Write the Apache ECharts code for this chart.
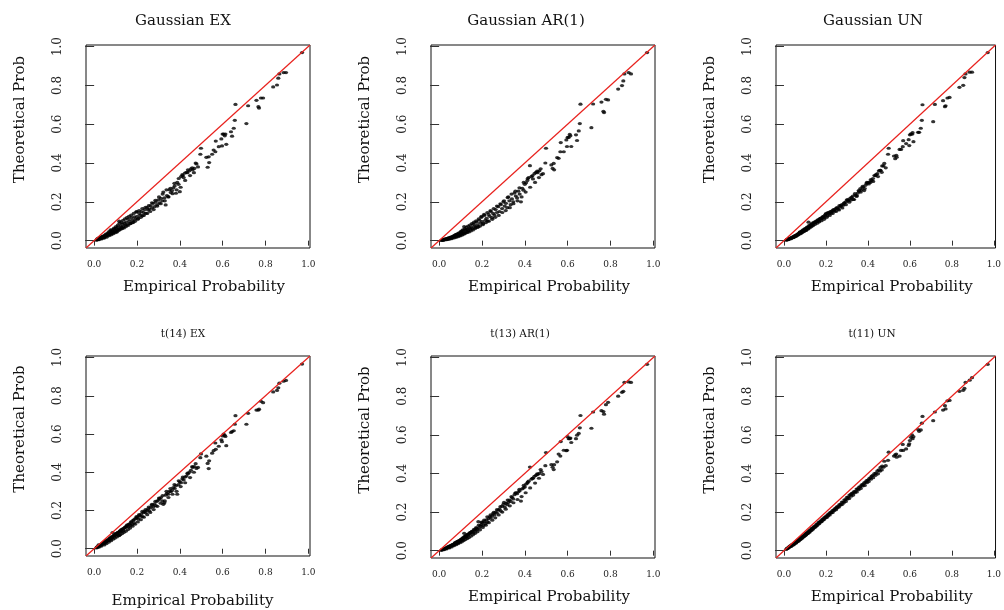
<!DOCTYPE html>
<html>
<head>
<meta charset="utf-8">
<script src="https://cdn.jsdelivr.net/npm/echarts@6/dist/echarts.min.js"></script>
<style>html,body{margin:0;padding:0;background:#fff;}#c{width:1004px;height:610px;}</style>
</head>
<body>
<div id="c"></div>
<script>
// Panel titles
const titles = ['Gaussian EX', 'Gaussian AR(1)', 'Gaussian UN', 't(14) EX', 't(13) AR(1)', 't(11) UN'];
const xName = 'Empirical Probability';
const yName = 'Theoretical Prob';
const tickValues = [0, 0.2, 0.4, 0.6, 0.8, 1.0];
const axisLim = [-0.038, 1.008];

// Empirical probabilities (shared x values), first set
const emp = [
0.010,0.013,0.016,0.019,0.021,0.024,0.027,0.030,0.032,0.035,
0.038,0.040,0.043,0.046,0.048,0.051,0.054,0.057,0.060,0.062,
0.065,0.068,0.071,0.074,0.077,0.080,0.083,0.086,0.089,0.092,
0.095,0.098,0.101,0.104,0.107,0.110,0.113,0.117,0.120,0.124,
0.128,0.132,0.136,0.141,0.146,
0.150,0.155,0.160,0.165,0.170,0.174,0.178,0.183,0.188,0.192,
0.197,0.201,0.206,0.211,0.216,0.221,0.226,0.231,0.236,0.241,
0.247,0.252,0.258,0.264,0.270,0.276,0.282,0.288,0.294,0.300,
0.306,0.312,0.318,0.323,0.328,0.334,0.340,0.346,0.352,0.358,
0.364,0.370,0.376,0.382,0.388,0.394,0.400,0.406,0.412,0.418,
0.424,0.431,0.438,0.445,0.452,0.460,0.468,0.478,
0.496,0.499,0.524,0.530,0.535,0.537,0.551,0.558,0.566,0.568,
0.582,0.594,0.597,0.600,0.605,0.610,0.613,0.617,0.639,0.644,
0.652,0.657,0.660,0.711,0.719,0.758,0.767,0.770,0.779,0.789,
0.836,0.854,0.860,0.865,0.885,0.896,0.971];

// Empirical probabilities, second set (dense lower part)
const emp2 = [
0.015,0.022,0.028,0.034,0.041,0.047,0.053,0.058,0.064,0.069,
0.075,0.079,0.084,0.088,0.093,0.097,0.102,0.106,0.111,0.115,
0.119,0.123,0.127,0.131,0.135,0.139,0.144,0.148,0.153,0.158,
0.163,0.168,0.173,0.179,0.185,0.191,0.198,0.204,0.210,0.218,
0.225,0.232,0.240,0.248,0.255,0.262,0.270,0.278,0.286,0.295,
0.303,0.311,0.320,0.330,0.338,0.347,0.356,0.366,0.375,0.385,
0.395,0.404,0.414,0.425,0.436,0.448,0.458,0.466,0.474,0.485];

// Theoretical probabilities per panel (first set)
const gaussEX = [
0.002,0.004,0.010,0.006,0.008,0.015,0.010,0.013,0.020,0.012,
0.017,0.022,0.015,0.025,0.020,0.028,0.022,0.035,0.027,0.030,
0.032,0.045,0.030,0.038,0.055,0.036,0.042,0.048,0.040,0.060,
0.047,0.052,0.063,0.045,0.055,0.070,0.058,0.100,0.062,0.075,
0.068,0.085,0.072,0.090,0.080,
0.095,0.083,0.110,0.098,0.088,0.118,0.105,0.095,0.122,0.112,
0.147,0.125,0.115,0.140,0.132,0.150,0.128,0.145,0.160,0.140,
0.170,0.158,0.163,0.180,0.168,0.192,0.175,0.200,0.185,0.210,
0.195,0.218,0.205,0.250,0.220,0.184,0.232,0.226,0.262,0.248,
0.258,0.272,0.282,0.244,0.300,0.290,0.252,0.330,0.340,0.325,
0.348,0.352,0.365,0.360,0.370,0.365,0.372,0.395,
0.445,0.476,0.429,0.378,0.432,0.402,0.445,0.467,0.458,0.513,
0.484,0.524,0.488,0.549,0.549,0.540,0.549,0.496,0.561,0.538,
0.579,0.620,0.702,0.603,0.695,0.723,0.690,0.683,0.735,0.735,
0.792,0.802,0.837,0.859,0.866,0.866,0.969];

const gaussAR = [
0.001,0.002,0.004,0.003,0.006,0.004,0.008,0.006,0.010,0.007,
0.009,0.012,0.008,0.015,0.011,0.014,0.018,0.013,0.020,0.016,
0.018,0.024,0.020,0.028,0.022,0.032,0.025,0.030,0.036,0.027,
0.034,0.030,0.042,0.037,0.050,0.035,0.045,0.072,0.040,0.055,
0.048,0.058,0.052,0.065,0.060,
0.070,0.062,0.085,0.075,0.068,0.095,0.080,0.072,0.105,0.090,
0.120,0.098,0.088,0.130,0.105,0.115,0.100,0.135,0.125,0.150,
0.118,0.140,0.132,0.160,0.145,0.175,0.150,0.185,0.165,0.200,
0.178,0.192,0.170,0.225,0.205,0.185,0.215,0.200,0.245,0.230,
0.220,0.255,0.240,0.200,0.270,0.260,0.290,0.298,0.310,0.325,
0.386,0.330,0.318,0.345,0.352,0.350,0.360,0.340,
0.400,0.476,0.390,0.372,0.398,0.365,0.428,0.424,0.458,0.505,
0.458,0.519,0.485,0.532,0.532,0.547,0.540,0.485,0.545,0.516,
0.565,0.603,0.703,0.582,0.704,0.714,0.666,0.660,0.728,0.725,
0.781,0.799,0.823,0.859,0.866,0.859,0.969];

const gaussUN = [
0.002,0.004,0.006,0.005,0.008,0.010,0.009,0.012,0.014,0.013,
0.016,0.018,0.015,0.022,0.020,0.024,0.022,0.028,0.026,0.030,
0.030,0.036,0.034,0.040,0.045,0.038,0.044,0.050,0.046,0.055,
0.050,0.056,0.062,0.054,0.060,0.068,0.063,0.095,0.070,0.075,
0.078,0.083,0.080,0.090,0.092,
0.095,0.098,0.105,0.100,0.110,0.115,0.112,0.120,0.125,0.118,
0.132,0.140,0.128,0.145,0.138,0.150,0.142,0.155,0.160,0.152,
0.165,0.170,0.162,0.180,0.175,0.185,0.182,0.195,0.200,0.210,
0.205,0.215,0.208,0.222,0.230,0.212,0.235,0.228,0.245,0.255,
0.268,0.262,0.275,0.258,0.285,0.295,0.298,0.302,0.300,0.310,
0.320,0.335,0.340,0.345,0.360,0.362,0.385,0.398,
0.445,0.476,0.436,0.422,0.440,0.430,0.470,0.470,0.484,0.515,
0.500,0.520,0.490,0.545,0.550,0.548,0.556,0.510,0.558,0.558,
0.579,0.620,0.700,0.613,0.702,0.721,0.690,0.695,0.735,0.738,
0.790,0.800,0.840,0.859,0.868,0.868,0.969];

const tEX = [
0.004,0.007,0.010,0.012,0.020,0.015,0.018,0.022,0.020,0.025,
0.026,0.030,0.028,0.033,0.036,0.032,0.040,0.038,0.045,0.042,
0.048,0.045,0.052,0.056,0.050,0.062,0.058,0.085,0.064,0.070,
0.068,0.075,0.072,0.080,0.076,0.085,0.082,0.070,0.092,0.090,
0.098,0.102,0.095,0.108,0.112,
0.118,0.125,0.115,0.130,0.122,0.140,0.128,0.150,0.135,0.158,
0.160,0.165,0.155,0.175,0.170,0.182,0.168,0.190,0.195,0.188,
0.200,0.208,0.198,0.215,0.228,0.220,0.235,0.225,0.248,0.255,
0.262,0.268,0.250,0.232,0.240,0.280,0.290,0.285,0.300,0.298,
0.305,0.320,0.315,0.330,0.285,0.335,0.350,0.345,0.365,0.360,
0.375,0.380,0.392,0.400,0.410,0.425,0.430,0.420,
0.476,0.496,0.484,0.446,0.419,0.460,0.500,0.513,0.553,0.520,
0.536,0.570,0.560,0.590,0.600,0.593,0.587,0.539,0.608,0.613,
0.617,0.651,0.696,0.651,0.708,0.725,0.725,0.730,0.771,0.764,
0.820,0.828,0.842,0.866,0.876,0.880,0.966];

const tAR = [
0.002,0.004,0.006,0.008,0.007,0.010,0.012,0.011,0.015,0.014,
0.016,0.020,0.018,0.022,0.019,0.025,0.023,0.028,0.030,0.027,
0.032,0.030,0.036,0.040,0.035,0.044,0.038,0.048,0.042,0.050,
0.048,0.055,0.052,0.058,0.062,0.056,0.066,0.090,0.070,0.075,
0.072,0.080,0.085,0.088,0.092,
0.095,0.100,0.092,0.108,0.104,0.115,0.110,0.150,0.120,0.128,
0.135,0.145,0.130,0.150,0.140,0.160,0.148,0.165,0.175,0.170,
0.180,0.192,0.185,0.200,0.195,0.210,0.215,0.205,0.230,0.240,
0.225,0.245,0.238,0.250,0.262,0.255,0.275,0.268,0.290,0.300,
0.295,0.305,0.310,0.257,0.320,0.325,0.330,0.345,0.350,0.360,
0.433,0.370,0.375,0.385,0.390,0.395,0.400,0.410,
0.440,0.508,0.445,0.432,0.420,0.445,0.460,0.500,0.490,0.565,
0.520,0.518,0.520,0.590,0.580,0.580,0.583,0.560,0.580,0.598,
0.607,0.636,0.700,0.634,0.718,0.725,0.720,0.707,0.756,0.768,
0.800,0.820,0.825,0.871,0.874,0.871,0.965];

const tUN = [
0.006,0.010,0.011,0.015,0.014,0.020,0.021,0.025,0.024,0.029,
0.028,0.033,0.032,0.037,0.036,0.041,0.040,0.046,0.045,0.051,
0.050,0.056,0.054,0.061,0.060,0.067,0.065,0.073,0.071,0.078,
0.076,0.083,0.081,0.089,0.087,0.094,0.092,0.101,0.098,0.107,
0.108,0.115,0.116,0.123,0.125,
0.128,0.136,0.138,0.146,0.147,0.154,0.152,0.163,0.164,0.171,
0.173,0.179,0.181,0.189,0.190,0.199,0.198,0.208,0.209,0.217,
0.220,0.227,0.230,0.239,0.240,0.251,0.252,0.263,0.265,0.276,
0.278,0.288,0.290,0.297,0.298,0.306,0.307,0.319,0.320,0.329,
0.332,0.341,0.343,0.351,0.355,0.363,0.366,0.373,0.378,0.386,
0.390,0.399,0.402,0.413,0.418,0.431,0.438,0.463,
0.468,0.510,0.490,0.496,0.500,0.484,0.490,0.519,0.550,0.519,
0.527,0.545,0.553,0.570,0.587,0.600,0.580,0.590,0.627,0.618,
0.625,0.660,0.695,0.673,0.718,0.728,0.751,0.734,0.776,0.778,
0.825,0.830,0.840,0.871,0.883,0.896,0.965];

// Theoretical probabilities per panel (second set, matches emp2)
const gaussEX2 = [
0.008,0.005,0.014,0.009,0.022,0.013,0.030,0.018,0.038,0.025,
0.048,0.030,0.055,0.035,0.065,0.040,0.072,0.045,0.080,0.052,
0.090,0.058,0.095,0.062,0.105,0.065,0.112,0.072,0.118,0.078,
0.125,0.088,0.132,0.092,0.140,0.100,0.150,0.110,0.155,0.120,
0.165,0.130,0.172,0.140,0.180,0.150,0.195,0.160,0.208,0.178,
0.225,0.190,0.240,0.205,0.262,0.225,0.270,0.242,0.295,0.262,
0.320,0.275,0.335,0.310,0.350,0.335,0.375,0.350,0.400,0.380];

const gaussAR2 = [
0.004,0.003,0.007,0.005,0.012,0.007,0.016,0.010,0.022,0.014,
0.028,0.017,0.034,0.020,0.040,0.024,0.048,0.028,0.055,0.033,
0.060,0.038,0.068,0.042,0.075,0.045,0.080,0.050,0.088,0.055,
0.095,0.062,0.102,0.068,0.112,0.075,0.125,0.082,0.135,0.092,
0.145,0.100,0.155,0.110,0.165,0.120,0.178,0.130,0.190,0.145,
0.205,0.155,0.222,0.170,0.240,0.190,0.255,0.205,0.272,0.225,
0.300,0.250,0.320,0.275,0.335,0.300,0.358,0.325,0.370,0.345];

const gaussUN2 = [
0.005,0.006,0.011,0.010,0.017,0.016,0.025,0.022,0.032,0.030,
0.042,0.036,0.048,0.042,0.056,0.048,0.062,0.053,0.070,0.060,
0.077,0.066,0.083,0.072,0.090,0.078,0.095,0.084,0.100,0.090,
0.108,0.097,0.115,0.103,0.123,0.110,0.135,0.120,0.143,0.130,
0.150,0.140,0.158,0.150,0.168,0.158,0.180,0.168,0.192,0.185,
0.210,0.198,0.222,0.212,0.242,0.232,0.258,0.250,0.280,0.268,
0.300,0.292,0.315,0.305,0.335,0.330,0.362,0.352,0.385,0.375];

const tEX2 = [
0.010,0.008,0.017,0.014,0.025,0.020,0.034,0.027,0.043,0.035,
0.055,0.042,0.062,0.050,0.070,0.056,0.078,0.062,0.085,0.068,
0.092,0.074,0.100,0.080,0.105,0.086,0.112,0.092,0.120,0.100,
0.128,0.108,0.140,0.118,0.150,0.128,0.168,0.140,0.178,0.152,
0.195,0.165,0.205,0.178,0.218,0.190,0.232,0.205,0.248,0.222,
0.265,0.238,0.278,0.250,0.300,0.268,0.315,0.285,0.335,0.300,
0.355,0.325,0.375,0.345,0.395,0.372,0.430,0.400,0.445,0.425];

const tAR2 = [
0.006,0.005,0.011,0.009,0.018,0.014,0.025,0.019,0.032,0.026,
0.040,0.031,0.046,0.036,0.052,0.041,0.058,0.046,0.066,0.052,
0.074,0.058,0.080,0.063,0.086,0.068,0.093,0.075,0.100,0.082,
0.110,0.090,0.120,0.098,0.132,0.108,0.148,0.120,0.158,0.132,
0.175,0.145,0.185,0.158,0.198,0.170,0.212,0.185,0.228,0.200,
0.250,0.215,0.262,0.232,0.280,0.248,0.298,0.265,0.318,0.280,
0.338,0.300,0.355,0.325,0.375,0.350,0.398,0.375,0.420,0.395];

const tUN2 = [
0.012,0.015,0.020,0.022,0.028,0.031,0.038,0.040,0.047,0.049,
0.056,0.058,0.064,0.066,0.072,0.074,0.080,0.082,0.088,0.090,
0.096,0.097,0.104,0.105,0.112,0.112,0.120,0.121,0.128,0.130,
0.138,0.140,0.148,0.150,0.158,0.162,0.170,0.172,0.180,0.185,
0.195,0.198,0.208,0.212,0.222,0.226,0.236,0.240,0.250,0.255,
0.268,0.270,0.282,0.288,0.300,0.304,0.316,0.322,0.335,0.338,
0.352,0.358,0.370,0.378,0.390,0.398,0.412,0.418,0.432,0.440];

const panelY = [gaussEX, gaussAR, gaussUN, tEX, tAR, tUN];
const panelY2 = [gaussEX2, gaussAR2, gaussUN2, tEX2, tAR2, tUN2];

// layout
const gridLeft = [86, 431, 776];
const gridTop = [45, 356];
const gridW = 224, gridH = [203, 202];
const titleCenterX = [183, 526, 873, 183, 520, 872];
const titleCenterY = [21, 21, 21, 334, 334, 334];
const serif = 'DejaVu Serif';

const chart = echarts.init(document.getElementById('c'), null, {renderer: 'canvas'});

const grids = [], xAxes = [], yAxes = [], series = [], graphics = [];
const dotStyle = {symbol: 'circle', symbolSize: [4.2, 3.2], itemStyle: {color: '#000'}, silent: true, z: 2};
for (let i = 0; i < 6; i++) {
  const col = i % 3, row = Math.floor(i / 3);
  grids.push({left: gridLeft[col], top: gridTop[row], width: gridW, height: gridH[row],
    show: true, borderColor: '#111', borderWidth: 1, backgroundColor: 'transparent', containLabel: false});
  const xPad = (i === 3) ? [0, 11, 0, 0] : [0, 0, 0, 12];
  xAxes.push({type: 'value', gridIndex: i, min: axisLim[0], max: axisLim[1],
    splitLine: {show: false}, axisLine: {show: false},
    axisTick: {show: true, customValues: tickValues, length: 5, lineStyle: {color: '#333'}},
    axisLabel: {customValues: tickValues, formatter: v => v.toFixed(1), fontSize: 9, fontFamily: serif, color: '#222', margin: 12},
    name: xName, nameLocation: 'middle', nameGap: (i === 3) ? 38 : 32,
    nameTextStyle: {fontFamily: serif, fontSize: 15, color: '#111', padding: xPad}});
  yAxes.push({type: 'value', gridIndex: i, min: axisLim[0], max: axisLim[1],
    splitLine: {show: false}, axisLine: {show: false},
    axisTick: {show: true, customValues: tickValues, length: 9, lineStyle: {color: '#333'}},
    axisLabel: {customValues: tickValues, formatter: v => v.toFixed(1), fontSize: 12, fontFamily: serif, color: '#222', margin: 22, rotate: 90},
    name: yName, nameLocation: 'middle', nameGap: 58, nameRotate: 90,
    nameTextStyle: {fontFamily: serif, fontSize: 15, color: '#111', padding: [0, 0, 0, 54]}});
  const ys = panelY[i], ys2 = panelY2[i];
  series.push(Object.assign({type: 'scatter', xAxisIndex: i, yAxisIndex: i,
    data: emp.map((x, j) => [x, ys[j]])}, dotStyle));
  series.push(Object.assign({type: 'scatter', xAxisIndex: i, yAxisIndex: i,
    data: emp2.map((x, j) => [x, ys2[j]])}, dotStyle));
  series.push({type: 'line', xAxisIndex: i, yAxisIndex: i, symbol: 'none', clip: true,
    lineStyle: {color: '#e8211d', width: 1.2}, data: [[axisLim[0], axisLim[0]], [axisLim[1], axisLim[1]]], z: 3, silent: true});
  graphics.push({type: 'text', x: titleCenterX[i], y: titleCenterY[i],
    style: {text: titles[i], fontFamily: serif, fontSize: row === 0 ? 15 : 10.5, fill: '#111', textAlign: 'center', textVerticalAlign: 'middle'}});
}

chart.setOption({
  backgroundColor: '#ffffff',
  animation: false,
  grid: grids, xAxis: xAxes, yAxis: yAxes, series: series, graphic: graphics
});
</script>
</body>
</html>
